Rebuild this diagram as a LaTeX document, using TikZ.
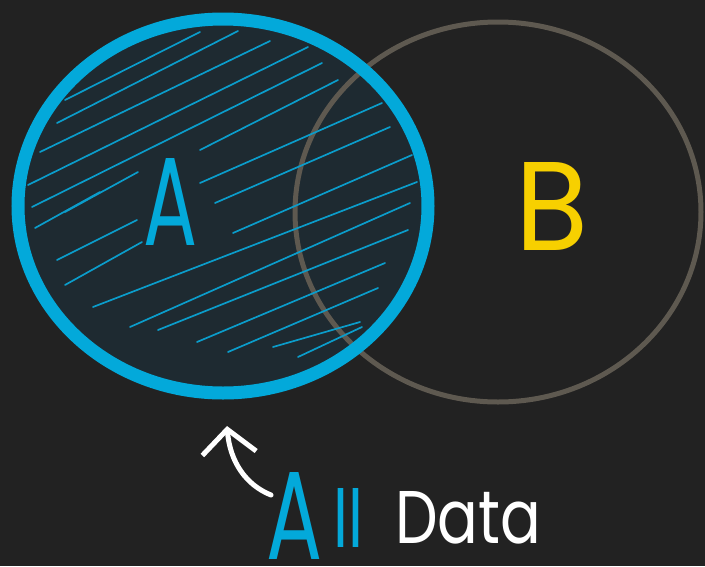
\documentclass[tikz,border=0pt]{standalone}
\usepackage{fontspec}
\setmainfont{Poppins}
\usetikzlibrary{arrows.meta}
\definecolor{bg}{HTML}{222222}
\definecolor{ablue}{HTML}{03A9DA}
\definecolor{hatch}{HTML}{0B9DCB}
\definecolor{afill}{HTML}{1E2A31}
\definecolor{bgray}{HTML}{5E5950}
\definecolor{byellow}{HTML}{F7D000}
\tikzset{
  hatchline/.style={hatch, line width=1.7pt, line cap=round},
  letter/.style={inner sep=0pt, anchor=base},
}
\begin{document}
\begin{tikzpicture}[x=1pt,y=-1pt]
\fill[bg] (0,0) rectangle (705,566);
\useasboundingbox (0,0) rectangle (705,566);
% set A fill
\fill[afill] (223,206) ellipse [x radius=205pt, y radius=187pt];
% set B
\draw[bgray, line width=5pt] (498,212) ellipse [x radius=203pt, y radius=190pt];
% hatching
\begin{scope}
\clip (223,206) ellipse [x radius=200pt, y radius=182pt];
\foreach \a/\b/\c/\d in {
 65/100/200/32, 57/123/238/31, 40/152/270/41, 28/185/308/47, 32/207/322/63,
 65/212/138/172, 200/150/338/80,
 35/228/100/192, 200/183/382/103, 215/203/390/127, 233/233/412/155,
 57/260/137/220, 65/285/142/242, 93/307/417/182, 130/327/410/203,
 158/330/408/230, 197/342/385/263, 228/352/378/288, 273/347/360/322,
 298/357/362/327}
  \draw[hatchline] (\a,\b) -- (\c,\d);
\end{scope}
% set A outline
\draw[ablue, line width=13pt] (223,206) ellipse [x radius=205pt, y radius=187pt];
% labels
\node[letter, text=ablue] (lA) at (171,245) {\resizebox{54pt}{87pt}{A}};
\node[letter, text=byellow] (lB) at (552,250) {\resizebox{73pt}{88pt}{B}};
\node[letter, text=ablue, anchor=base west] (all) at (266,559)
  {\resizebox{56pt}{87pt}{A}\hspace{11pt}\raisebox{12pt}{\resizebox{30pt}{59pt}{ll}}};
\node[letter, text=white, anchor=base west] (data) at (395,543)
  {\resizebox{146pt}{52pt}{Data}};
% arrow
\coordinate (tail) at (271,495);
\coordinate (tip) at (227,426);
\draw[white, line width=5pt, line cap=round,
  -{Straight Barb[length=24pt, width=54pt, line width=5pt]}]
  (tail) .. controls (246,485) and (230,462) .. (tip);
\end{tikzpicture}
\end{document}
